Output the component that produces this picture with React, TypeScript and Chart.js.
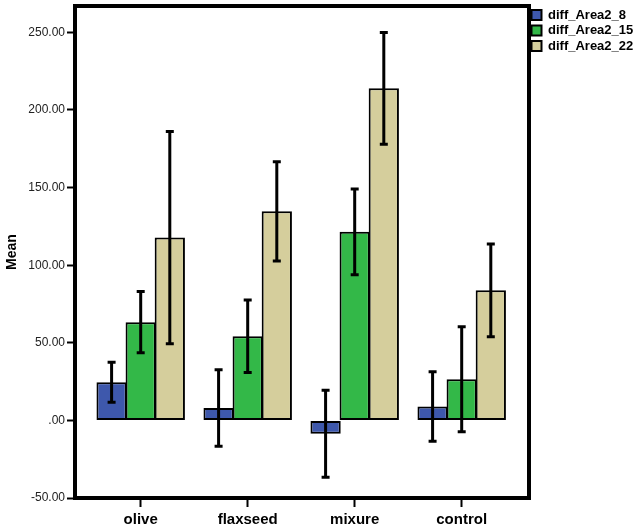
import React, { useEffect, useRef } from "react";
import { Chart, registerables } from "chart.js";

Chart.register(...registerables);

const categories = ["olive", "flaxseed", "mixure", "control"];
const seriesNames = ["diff_Area2_8", "diff_Area2_15", "diff_Area2_22"];
const mean8 = [24.6, 8.0, -8.6, 9.0];
const mean15 = [63.3, 54.2, 121.5, 26.5];
const mean22 = [117.8, 134.7, 214.0, 83.8];
const err8 = [12.9, 24.7, 28.1, 22.4];
const err15 = [19.7, 23.3, 27.6, 33.8];
const err22 = [68.4, 32.0, 36.0, 29.9];
const yTicks = [-50, 0, 50, 100, 150, 200, 250];
const colors = ["#3E58AC", "#33B848", "#D5CE9C"];

const FONT = "Arial, 'Liberation Sans', sans-serif";

const errorBarPlugin = {
  id: "errorBars",
  afterDatasetsDraw(chart: any) {
    const ctx = chart.ctx;
    const yScale = chart.scales.y;
    const errs = [err8, err15, err22];
    const means = [mean8, mean15, mean22];
    ctx.save();
    ctx.strokeStyle = "#000";
    ctx.lineWidth = 3;
    chart.data.datasets.forEach((_ds: any, di: number) => {
      const meta = chart.getDatasetMeta(di);
      meta.data.forEach((bar: any, i: number) => {
        const m = means[di][i];
        const e = errs[di][i];
        const yt = yScale.getPixelForValue(m + e);
        const yb = yScale.getPixelForValue(m - e);
        const x = bar.x;
        ctx.beginPath();
        ctx.moveTo(x, yt);
        ctx.lineTo(x, yb);
        ctx.moveTo(x - 4, yt);
        ctx.lineTo(x + 4, yt);
        ctx.moveTo(x - 4, yb);
        ctx.lineTo(x + 4, yb);
        ctx.stroke();
      });
    });
    ctx.restore();
  },
};

const framePlugin = {
  id: "frame",
  afterDraw(chart: any) {
    const { ctx, chartArea } = chart;
    ctx.save();
    ctx.strokeStyle = "#000";
    ctx.lineWidth = 4;
    ctx.strokeRect(
      chartArea.left,
      chartArea.top,
      chartArea.right - chartArea.left,
      chartArea.bottom - chartArea.top
    );
    ctx.restore();
  },
};

export default function App() {
  const ref = useRef<HTMLCanvasElement | null>(null);
  useEffect(() => {
    if (!ref.current) return;
    const mk = (vals: number[]) => vals.map((v, i) => ({ x: i, y: v }));
    const chart = new Chart(ref.current, {
      type: "bar",
      data: {
        datasets: [mean8, mean15, mean22].map((vals, i) => ({
          label: seriesNames[i],
          data: mk(vals),
          backgroundColor: colors[i],
          borderColor: "#000",
          borderWidth: 2,
          borderSkipped: false,
          categoryPercentage: 0.816,
          barPercentage: 1.04,
        })),
      },
      options: {
        animation: false,
        responsive: true,
        maintainAspectRatio: false,
        layout: { padding: { top: 6, left: 0, right: 0, bottom: 0 } },
        plugins: {
          tooltip: { enabled: false },
          legend: {
            position: "right",
            align: "start",
            maxWidth: 106,
            labels: {
              boxWidth: 10,
              boxHeight: 10,
              padding: 2.5,
              color: "#000",
              font: { family: FONT, size: 13, weight: "bold" },
            },
          },
        },
        scales: {
          x: {
            type: "linear",
            min: -0.614,
            max: 3.629,
            offset: false,
            afterBuildTicks: (scale: any) => {
              scale.ticks = categories.map((_c, i) => ({ value: i }));
            },
            afterFit: (scale: any) => {
              scale.height = 28;
              scale.paddingLeft = 0;
              scale.paddingRight = 0;
            },
            border: { display: false },
            grid: {
              drawOnChartArea: false,
              drawTicks: true,
              tickLength: 9,
              tickWidth: 2,
              tickColor: "#000",
              offset: false,
            },
            ticks: {
              autoSkip: false,
              maxRotation: 0,
              padding: 4,
              color: "#000",
              font: { family: FONT, size: 15, weight: "bold" },
              callback: (v: any) => categories[Math.round(Number(v))] ?? "",
            },
          },
          y: {
            min: -50,
            max: 267,
            afterBuildTicks: (scale: any) => {
              scale.ticks = yTicks.map((v) => ({ value: v }));
            },
            afterFit: (scale: any) => {
              scale.width = 75;
              scale.paddingTop = 0;
              scale.paddingBottom = 0;
            },
            border: { display: false },
            grid: {
              drawOnChartArea: false,
              drawTicks: true,
              tickLength: 8,
              tickWidth: 2,
              tickColor: "#000",
            },
            ticks: {
              padding: 2,
              color: "#222",
              font: { family: FONT, size: 12 },
              callback: (v: any) => {
                const n = Number(v);
                return n === 0 ? ".00" : n.toFixed(2);
              },
            },
            title: {
              display: true,
              text: "Mean",
              color: "#000",
              font: { family: FONT, size: 14, weight: "bold" },
            },
          },
        },
      },
      plugins: [errorBarPlugin, framePlugin],
    } as any);
    return () => chart.destroy();
  }, []);
  return (
    <div style={{ position: "absolute", left: 0, top: 0, width: 635, height: 526 }}>
      <canvas ref={ref} />
    </div>
  );
}
